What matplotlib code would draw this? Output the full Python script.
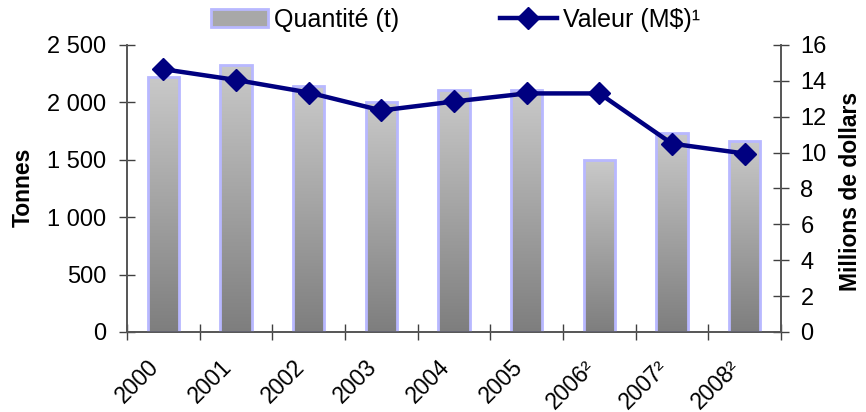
import numpy as np
import matplotlib.pyplot as plt
from matplotlib.ticker import FuncFormatter, MultipleLocator
from matplotlib.patches import Patch
from matplotlib.lines import Line2D
from matplotlib.transforms import ScaledTranslation

plt.rcParams['font.family'] = ['Liberation Sans', 'DejaVu Sans']

annees = ['2000', '2001', '2002', '2003', '2004', '2005', '2006²', '2007²', '2008²']
quantite_t = [2225, 2330, 2140, 2005, 2105, 2105, 1495, 1735, 1660]
valeur_mds = [14.65, 14.05, 13.35, 12.35, 12.85, 13.3, 13.3, 10.5, 9.95]

fig = plt.figure(figsize=(8.66, 4.12), dpi=100)
ax = fig.add_axes([0.1467, 0.1942, 0.7551, 0.6966])
ax2 = ax.twinx()

x = np.arange(len(annees))
largeur = 0.43

# barres avec degrade vertical (clair en haut, fonce en bas)
grad = np.linspace(0, 1, 256).reshape(-1, 1)
cmap = plt.matplotlib.colors.LinearSegmentedColormap.from_list('gris', ['#7e7e7e', '#c9c9c9'])
barres = ax.bar(x, quantite_t, width=largeur, facecolor='none',
                edgecolor='#b8b8ff', linewidth=2, zorder=3)
for b in barres:
    x0, y0 = b.get_x(), b.get_y()
    im = ax.imshow(grad, cmap=cmap, aspect='auto', origin='lower',
                   extent=[x0, x0 + b.get_width(), y0, y0 + b.get_height()], zorder=2)
    im.set_clip_path(b)

ax.set_xlim(-0.5, len(annees) - 0.5)
ax.set_ylim(0, 2500)
ax.yaxis.set_major_locator(MultipleLocator(500))
ax.yaxis.set_major_formatter(FuncFormatter(lambda v, p: f'{int(v):,}'.replace(',', ' ')))

ax.set_xticks(x)
ax.set_xticks(np.arange(-0.5, len(annees)), minor=True)
ax.tick_params(axis='x', which='major', length=0, pad=17, labelsize=16.5)
ax.tick_params(axis='x', which='minor', direction='inout', length=12, width=1, color='#404040')
ax.tick_params(axis='y', direction='inout', length=12, width=1, color='#404040',
               pad=9, labelsize=17)
ax.set_xticklabels(annees, rotation=45, ha='right', rotation_mode='anchor')
# etiquettes d'annees un peu decalees vers la gauche
decalage = ScaledTranslation(-0.16, 0, fig.dpi_scale_trans)
for lab in ax.get_xticklabels():
    lab.set_transform(lab.get_transform() + decalage)

ax2.plot(x, valeur_mds, color='#000080', linewidth=3.2, marker='D', markersize=11, zorder=5)
ax2.set_ylim(0, 16)
ax2.yaxis.set_major_locator(MultipleLocator(2))
ax2.tick_params(axis='y', direction='inout', length=12, width=1, color='#404040',
                pad=8, labelsize=17)

for a in (ax, ax2):
    a.spines['top'].set_visible(False)
    for s in ('left', 'right', 'bottom'):
        a.spines[s].set_color('#555555')
        a.spines[s].set_linewidth(1.2)
ax.set_zorder(ax2.get_zorder() - 1)
ax2.patch.set_visible(False)
ax.patch.set_visible(False)

fig.text(0.027, 0.545, 'Tonnes', rotation=90, fontsize=16.5, fontweight='bold',
         ha='center', va='center')
fig.text(0.982, 0.535, 'Millions de dollars', rotation=90, fontsize=16.5, fontweight='bold',
         ha='center', va='center')

poignees = [Patch(facecolor='#a8a8a8', edgecolor='#b8b8ff', linewidth=2),
            Line2D([], [], color='#000080', linewidth=3.2, marker='D', markersize=11)]
fig.legend(poignees, ['Quantité (t)', 'Valeur (M$)¹'], loc='center',
           bbox_to_anchor=(0.526, 0.952), ncol=2, frameon=False, fontsize=18,
           handlelength=2.3, handleheight=0.75, handletextpad=0.25, columnspacing=4.0,
           borderpad=0.1)

fig.savefig('out.png', dpi=100)
